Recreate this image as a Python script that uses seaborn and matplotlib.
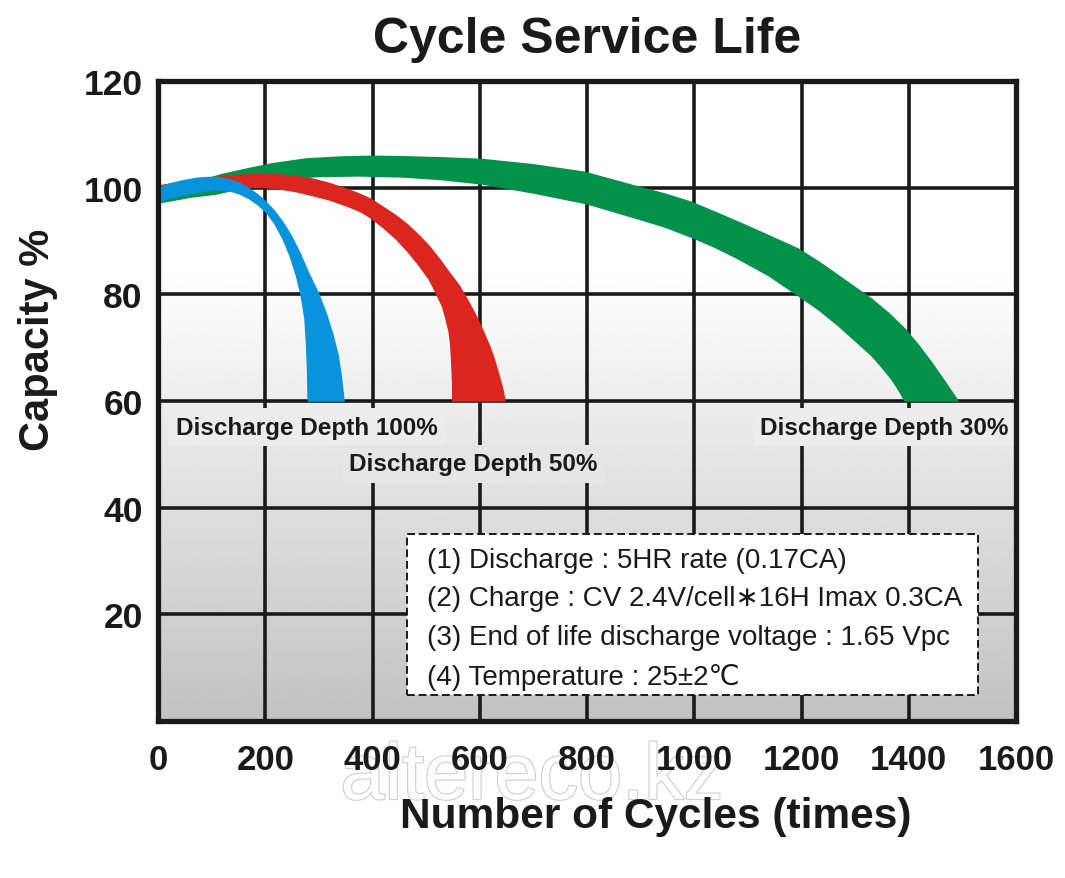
import numpy as np
import pandas as pd
import matplotlib
matplotlib.use("Agg")
import matplotlib.pyplot as plt
import matplotlib.patheffects as pe
from matplotlib.patches import Rectangle
import seaborn as sns

# ---------------- data ----------------
x_ticks = [0, 200, 400, 600, 800, 1000, 1200, 1400, 1600]
x_tick_labels = ["0", "200", "400", "600", "800", "1000", "1200", "1400", "1600"]
y_ticks = [0, 20, 40, 60, 80, 100, 120]
y_tick_labels = ["", "20", "40", "60", "80", "100", "120"]

# Discharge depth 100% (blue band): upper/outer edge and lower/inner edge
blue_upper_x = [0, 22, 47, 72, 91, 109, 134, 153, 171, 187, 202, 218, 233, 249, 264, 280,
                300, 314, 326, 336, 342, 347]
blue_upper_y = [99.9, 100.7, 101.3, 101.75, 101.9, 101.9, 101.5, 100.8, 99.75, 98.6, 97.25,
                95.5, 93.5, 90.9, 87.9, 84.2, 80.0, 76.3, 72.5, 68.5, 64.5, 60]
blue_lower_x = [0, 22, 47, 72, 91, 109, 134, 153, 171, 187, 202, 218, 233, 246, 258, 267,
                274, 277, 279, 280]
blue_lower_y = [97.25, 98.0, 98.6, 99.1, 99.4, 99.6, 99.4, 98.8, 97.9, 96.75, 95.4, 93.2,
                90.4, 87.25, 83.5, 79.75, 75.4, 70.4, 65.4, 60]

# Discharge depth 50% (red band)
red_upper_x = [0, 60, 134, 180, 227, 258, 289, 320, 351, 376, 396, 419, 444, 466, 487, 506,
               525, 543, 562, 577, 593, 605, 618, 627, 636, 643, 647]
red_upper_y = [100.3, 101.3, 102.2, 102.5, 102.4, 102.1, 101.6, 100.8, 99.75, 98.8, 97.9,
               96.4, 94.75, 93.0, 91.0, 89.0, 86.6, 84.1, 81.6, 79.0, 76.0, 73.4, 70.4,
               67.9, 64.75, 62.25, 60]
red_lower_x = [0, 90, 150, 202, 227, 258, 289, 320, 351, 376, 396, 419, 444, 466, 487, 506,
               518, 531, 537, 543, 546, 548, 549.5, 549.5]
red_lower_y = [97.5, 99.6, 100.1, 100.0, 99.75, 99.25, 98.5, 97.7, 96.6, 95.6, 94.4, 92.6,
               90.4, 88.0, 85.4, 82.75, 80.4, 77.6, 75.4, 72.9, 70.4, 66.6, 62.9, 60]

# Discharge depth 30% (green band)
green_upper_x = [0, 60, 121, 170, 214, 277, 340, 400, 457, 530, 604, 700, 795, 897, 946, 995,
                 1039, 1083, 1139, 1194, 1232, 1269, 1300, 1331, 1362, 1393, 1418, 1442,
                 1467, 1492]
green_upper_y = [99.6, 100.8, 102.5, 103.6, 104.5, 105.4, 105.75, 105.9, 105.8, 105.6, 105.3,
                 104.3, 102.9, 100.1, 98.8, 97.25, 95.4, 93.5, 91.0, 88.5, 86.1, 83.5, 81.3,
                 79.1, 76.5, 73.5, 70.5, 67.3, 63.7, 60]
green_lower_x = [0, 60, 109, 160, 233, 300, 376, 457, 530, 604, 700, 799, 897, 946, 995, 1039,
                 1083, 1139, 1194, 1232, 1269, 1300, 1331, 1350, 1368, 1381, 1393]
green_lower_y = [97.1, 98.2, 98.8, 100.0, 101.6, 102.1, 102.2, 102.0, 101.5, 100.7, 99.0,
                 97.0, 94.1, 92.6, 90.7, 88.8, 86.6, 83.5, 79.75, 77.1, 74.1, 71.3, 68.5,
                 66.3, 64.1, 62.1, 60]

band_labels = ["Discharge Depth 30%", "Discharge Depth 50%", "Discharge Depth 100%"]
band_colors = ["#04924a", "#db251f", "#0893dc"]

note_lines = [
    "(1) Discharge : 5HR rate (0.17CA)",
    "(2) Charge : CV 2.4V/cell\u221716H Imax 0.3CA",
    "(3) End of life discharge voltage : 1.65 Vpc",
    "(4) Temperature : 25\u00b12\u2103",
]

# ---------------- styling ----------------
sns.set_theme(style="white")
plt.rcParams["font.family"] = ["Liberation Sans", "DejaVu Sans", "Noto Sans CJK SC"]

fig = plt.figure(figsize=(10.65, 8.79), dpi=100)
ax = fig.add_axes([158 / 1065, 1 - 722 / 879, (1016 - 158) / 1065, (722 - 82) / 879])

ax.set_xlim(0, 1600)
ax.set_ylim(0, 120)

# background gradient (white at top, grey toward bottom)
yy = np.linspace(120, 0, 400)
shade = np.where(yy >= 85, 1.0, 1.0 - 0.24 * (85 - yy) / 85)
grad = np.repeat(shade[:, None], 2, axis=1)
ax.imshow(grad, cmap="gray", vmin=0, vmax=1, extent=[0, 1600, 0, 120],
          aspect="auto", zorder=0.1, interpolation="bilinear")

# grid
ax.set_axisbelow(True)
ax.set_xticks(x_ticks)
ax.set_yticks(y_ticks)
ax.grid(True, color="#1a1a1a", lw=2.6, zorder=0.5)
ax.set_xticklabels(x_tick_labels, fontsize=25, fontweight="bold", color="#1a1a1a")
ax.set_yticklabels(y_tick_labels, fontsize=25.5, fontweight="bold", color="#1a1a1a")
ax.tick_params(axis="both", length=0)
ax.tick_params(axis="x", pad=16)
ax.tick_params(axis="y", pad=11)
for sp in ax.spines.values():
    sp.set_visible(True)
    sp.set_color("#1a1a1a")
    sp.set_linewidth(3.8)
    sp.set_zorder(10)

# bands
bands = [
    (green_upper_x, green_upper_y, green_lower_x, green_lower_y),
    (red_upper_x, red_upper_y, red_lower_x, red_lower_y),
    (blue_upper_x, blue_upper_y, blue_lower_x, blue_lower_y),
]
for i, ((ux, uy, lx, ly), lab, col) in enumerate(zip(bands, band_labels, band_colors)):
    px = list(ux) + list(lx)[::-1] + [ux[0]]
    py = list(uy) + list(ly)[::-1] + [uy[0]]
    df = pd.DataFrame({"x": px, "y": py})
    ax.fill(df["x"], df["y"], color=col, lw=0, zorder=2 + i)
    sns.lineplot(data=df, x="x", y="y", sort=False, estimator=None, color=col,
                 lw=1.0, ax=ax, zorder=2.05 + i)

ax.set_xlim(0, 1600)
ax.set_ylim(0, 120)
ax.set_xticks(x_ticks)
ax.set_yticks(y_ticks)

# band labels
lab_kw = dict(fontsize=17.5, fontweight="bold", color="#1a1a1a", zorder=6)
ax.text(33, 55.1, band_labels[2], ha="left", va="center",
        bbox=dict(boxstyle="square,pad=0.3", fc="#ececec", ec="none"), **lab_kw)
ax.text(357, 48.2, band_labels[1], ha="left", va="center",
        bbox=dict(boxstyle="square,pad=0.3", fc="#e6e6e6", ec="none"), **lab_kw)
ax.text(1586, 55.1, band_labels[0], ha="right", va="center",
        bbox=dict(boxstyle="square,pad=0.3", fc="#ececec", ec="none"), **lab_kw)

# note box
ax.add_patch(Rectangle((465, 4.9), 1064, 30.2, fc="white", ec="#1a1a1a",
                       lw=1.4, ls=(0, (4, 2)), zorder=7))
for yv, line in zip([30.2, 23.0, 15.7, 8.4], note_lines):
    ax.text(502, yv, line, ha="left", va="center", fontsize=20,
            color="#1a1a1a", zorder=8)

# titles and axis labels
ax.set_title("Cycle Service Life", fontsize=36, fontweight="bold",
             color="#1a1a1a", pad=21)
ax.set_xlabel("Number of Cycles (times)", fontsize=30.5, fontweight="bold", color="#1a1a1a")
ax.xaxis.set_label_coords((656 - 158) / 858, (722 - 797) / 640)
ax.xaxis.label.set_va("top")
ax.set_ylabel("Capacity %", fontsize=30, fontweight="bold", color="#1a1a1a")
ax.yaxis.set_label_coords((38 - 158) / 858, (722 - 340) / 640)
ax.yaxis.label.set_va("center")

# watermark
fig.text(532 / 1065, 1 - 800 / 879, "altereco.kz", ha="center", va="baseline",
         fontsize=57, color="white", zorder=-1,
         path_effects=[pe.withStroke(linewidth=1.6, foreground="#cfcfcf")])

fig.savefig("out.png", dpi=100)
